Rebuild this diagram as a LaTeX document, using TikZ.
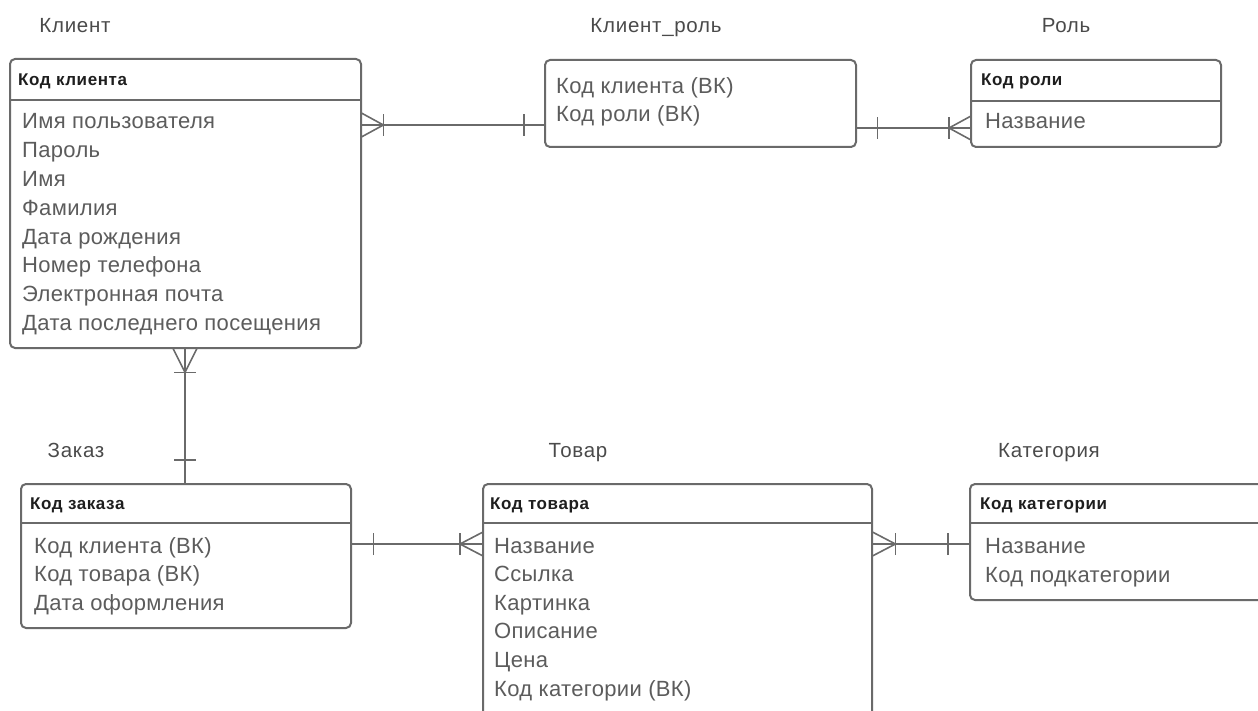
\documentclass[tikz,border=0pt]{standalone}
\usepackage{fontspec}
\setmainfont{Liberation Sans}
\newfontfamily\spacedfont[LetterSpace=3.5]{Liberation Sans}
\newfontfamily\fieldfont[LetterSpace=1.5]{Liberation Sans}
\definecolor{ln}{HTML}{6A6A6A}
\definecolor{fld}{HTML}{5C5C5C}
\definecolor{hdr}{HTML}{1E1E1E}
\definecolor{ttl}{HTML}{4A4A4A}
\tikzset{
  ent/.style={draw=ln, line width=2pt, rounded corners=5pt, fill=white},
  field/.style={anchor=base west, inner sep=0pt, text=fld, font=\fieldfont\fontsize{22}{25}\selectfont},
  head/.style={anchor=base west, inner sep=0pt, text=hdr, font=\spacedfont\fontsize{17}{20}\selectfont\bfseries},
  title/.style={anchor=base, inner sep=0pt, text=ttl, font=\spacedfont\fontsize{20.5}{23}\selectfont},
  rel/.style={draw=ln, line width=1.6pt},
}
\begin{document}
\begin{tikzpicture}[x=1pt,y=-1pt]
\useasboundingbox (0,0) rectangle (1258,711);
\clip (0,0) rectangle (1258,711);

% Titles
\node[title] (t1) at (75,33) {Клиент};
\node[title] (t2) at (656,33) {Клиент\_роль};
\node[title] (t3) at (1066,33) {Роль};
\node[title] (t4) at (76,457) {Заказ};
\node[title] (t5) at (578,457) {Товар};
\node[title] (t6) at (1049,457) {Категория};

% Boxes
\path[ent] (10,59) rectangle (361,348);
\draw[ln, line width=2pt] (10,100) -- (361,100);
\node[inner sep=0pt, minimum width=351pt, minimum height=289pt, anchor=north west] (kl) at (10,59) {};

\path[ent] (545,60) rectangle (856,147);
\node[inner sep=0pt, minimum width=311pt, minimum height=87pt, anchor=north west] (kr) at (545,60) {};

\path[ent] (971,60) rectangle (1221,147);
\draw[ln, line width=2pt] (971,101) -- (1221,101);
\node[inner sep=0pt, minimum width=250pt, minimum height=87pt, anchor=north west] (ro) at (971,60) {};

\path[ent] (21,484) rectangle (351,628);
\draw[ln, line width=2pt] (21,523) -- (351,523);
\node[inner sep=0pt, minimum width=330pt, minimum height=144pt, anchor=north west] (za) at (21,484) {};

\path[ent] (483,484) rectangle (872,760);
\draw[ln, line width=2pt] (483,523) -- (872,523);
\node[inner sep=0pt, minimum width=389pt, minimum height=276pt, anchor=north west] (to) at (483,484) {};

\path[ent] (970,484) rectangle (1268,600);
\draw[ln, line width=2pt] (970,523) -- (1268,523);
\node[inner sep=0pt, minimum width=298pt, minimum height=116pt, anchor=north west] (ka) at (970,484) {};

% Headers
\node[head] (klh) at (18,85.5) {Код клиента};
\node[head] (roh) at (981,86) {Код роли};
\node[head] (zah) at (30,509) {Код заказа};
\node[head] (toh) at (490,509) {Код товара};
\node[head] (kah) at (980,509) {Код категории};

% Fields
\foreach \t [count=\i] in {Имя пользователя, Пароль, Имя, Фамилия, Дата рождения, Номер телефона, Электронная почта, Дата последнего посещения}
  \node[field] (klf\i) at (22,{129+28.8*(\i-1)}) {\t};
\node[field] (krf1) at (556,94) {Код клиента (ВК)};
\node[field] (krf2) at (556,122) {Код роли (ВК)};
\node[field] (rof1) at (985,129) {Название};
\foreach \t [count=\i] in {Код клиента (ВК), Код товара (ВК), Дата оформления}
  \node[field] (zaf\i) at (34,{553+28.6*(\i-1)}) {\t};
\foreach \t [count=\i] in {Название, Ссылка, Картинка, Описание, Цена, Код категории (ВК)}
  \node[field] (tof\i) at (494,{553+28.6*(\i-1)}) {\t};
\node[field] (kaf1) at (985,553) {Название};
\node[field] (kaf2) at (985,582) {Код подкатегории};

% Connectors
% Клиент -- Клиент_роль
\coordinate (a1) at (kl.east |- 0,125);
\coordinate (a2) at (kr.west |- 0,125);
\draw[rel] (a1) -- (a2);
\draw[rel] ([yshift=-12pt]a1) -- ([xshift=22pt]a1) -- ([yshift=12pt]a1);
\draw[rel] ([xshift=22pt,yshift=-11pt]a1) -- ([xshift=22pt,yshift=11pt]a1);
\draw[rel] ([xshift=-21pt,yshift=-11pt]a2) -- ([xshift=-21pt,yshift=11pt]a2);

% Клиент_роль -- Роль
\coordinate (b1) at (kr.east |- 0,128);
\coordinate (b2) at (ro.west |- 0,128);
\draw[rel] (b1) -- (b2);
\draw[rel] ([xshift=21pt,yshift=-11pt]b1) -- ([xshift=21pt,yshift=11pt]b1);
\draw[rel] ([yshift=-12pt]b2) -- ([xshift=-22pt]b2) -- ([yshift=12pt]b2);
\draw[rel] ([xshift=-22pt,yshift=-11pt]b2) -- ([xshift=-22pt,yshift=11pt]b2);

% Клиент -- Заказ
\coordinate (c1) at (kl.south -| 185,0);
\coordinate (c2) at (za.north -| 185,0);
\draw[rel] (c1) -- (c2);
\draw[rel] ([xshift=-12pt]c1) -- ([yshift=-24pt]c1) -- ([xshift=12pt]c1);
\draw[rel] ([xshift=-11pt,yshift=-24pt]c1) -- ([xshift=11pt,yshift=-24pt]c1);
\draw[rel] ([xshift=-11pt,yshift=24pt]c2) -- ([xshift=11pt,yshift=24pt]c2);

% Заказ -- Товар
\coordinate (d1) at (za.east |- 0,544);
\coordinate (d2) at (to.west |- 0,544);
\draw[rel] (d1) -- (d2);
\draw[rel] ([xshift=22pt,yshift=-11pt]d1) -- ([xshift=22pt,yshift=11pt]d1);
\draw[rel] ([yshift=-12pt]d2) -- ([xshift=-23pt]d2) -- ([yshift=12pt]d2);
\draw[rel] ([xshift=-23pt,yshift=-11pt]d2) -- ([xshift=-23pt,yshift=11pt]d2);

% Товар -- Категория
\coordinate (e1) at (to.east |- 0,544);
\coordinate (e2) at (ka.west |- 0,544);
\draw[rel] (e1) -- (e2);
\draw[rel] ([yshift=-12pt]e1) -- ([xshift=23pt]e1) -- ([yshift=12pt]e1);
\draw[rel] ([xshift=23pt,yshift=-11pt]e1) -- ([xshift=23pt,yshift=11pt]e1);
\draw[rel] ([xshift=-22pt,yshift=-11pt]e2) -- ([xshift=-22pt,yshift=11pt]e2);
\end{tikzpicture}
\end{document}
